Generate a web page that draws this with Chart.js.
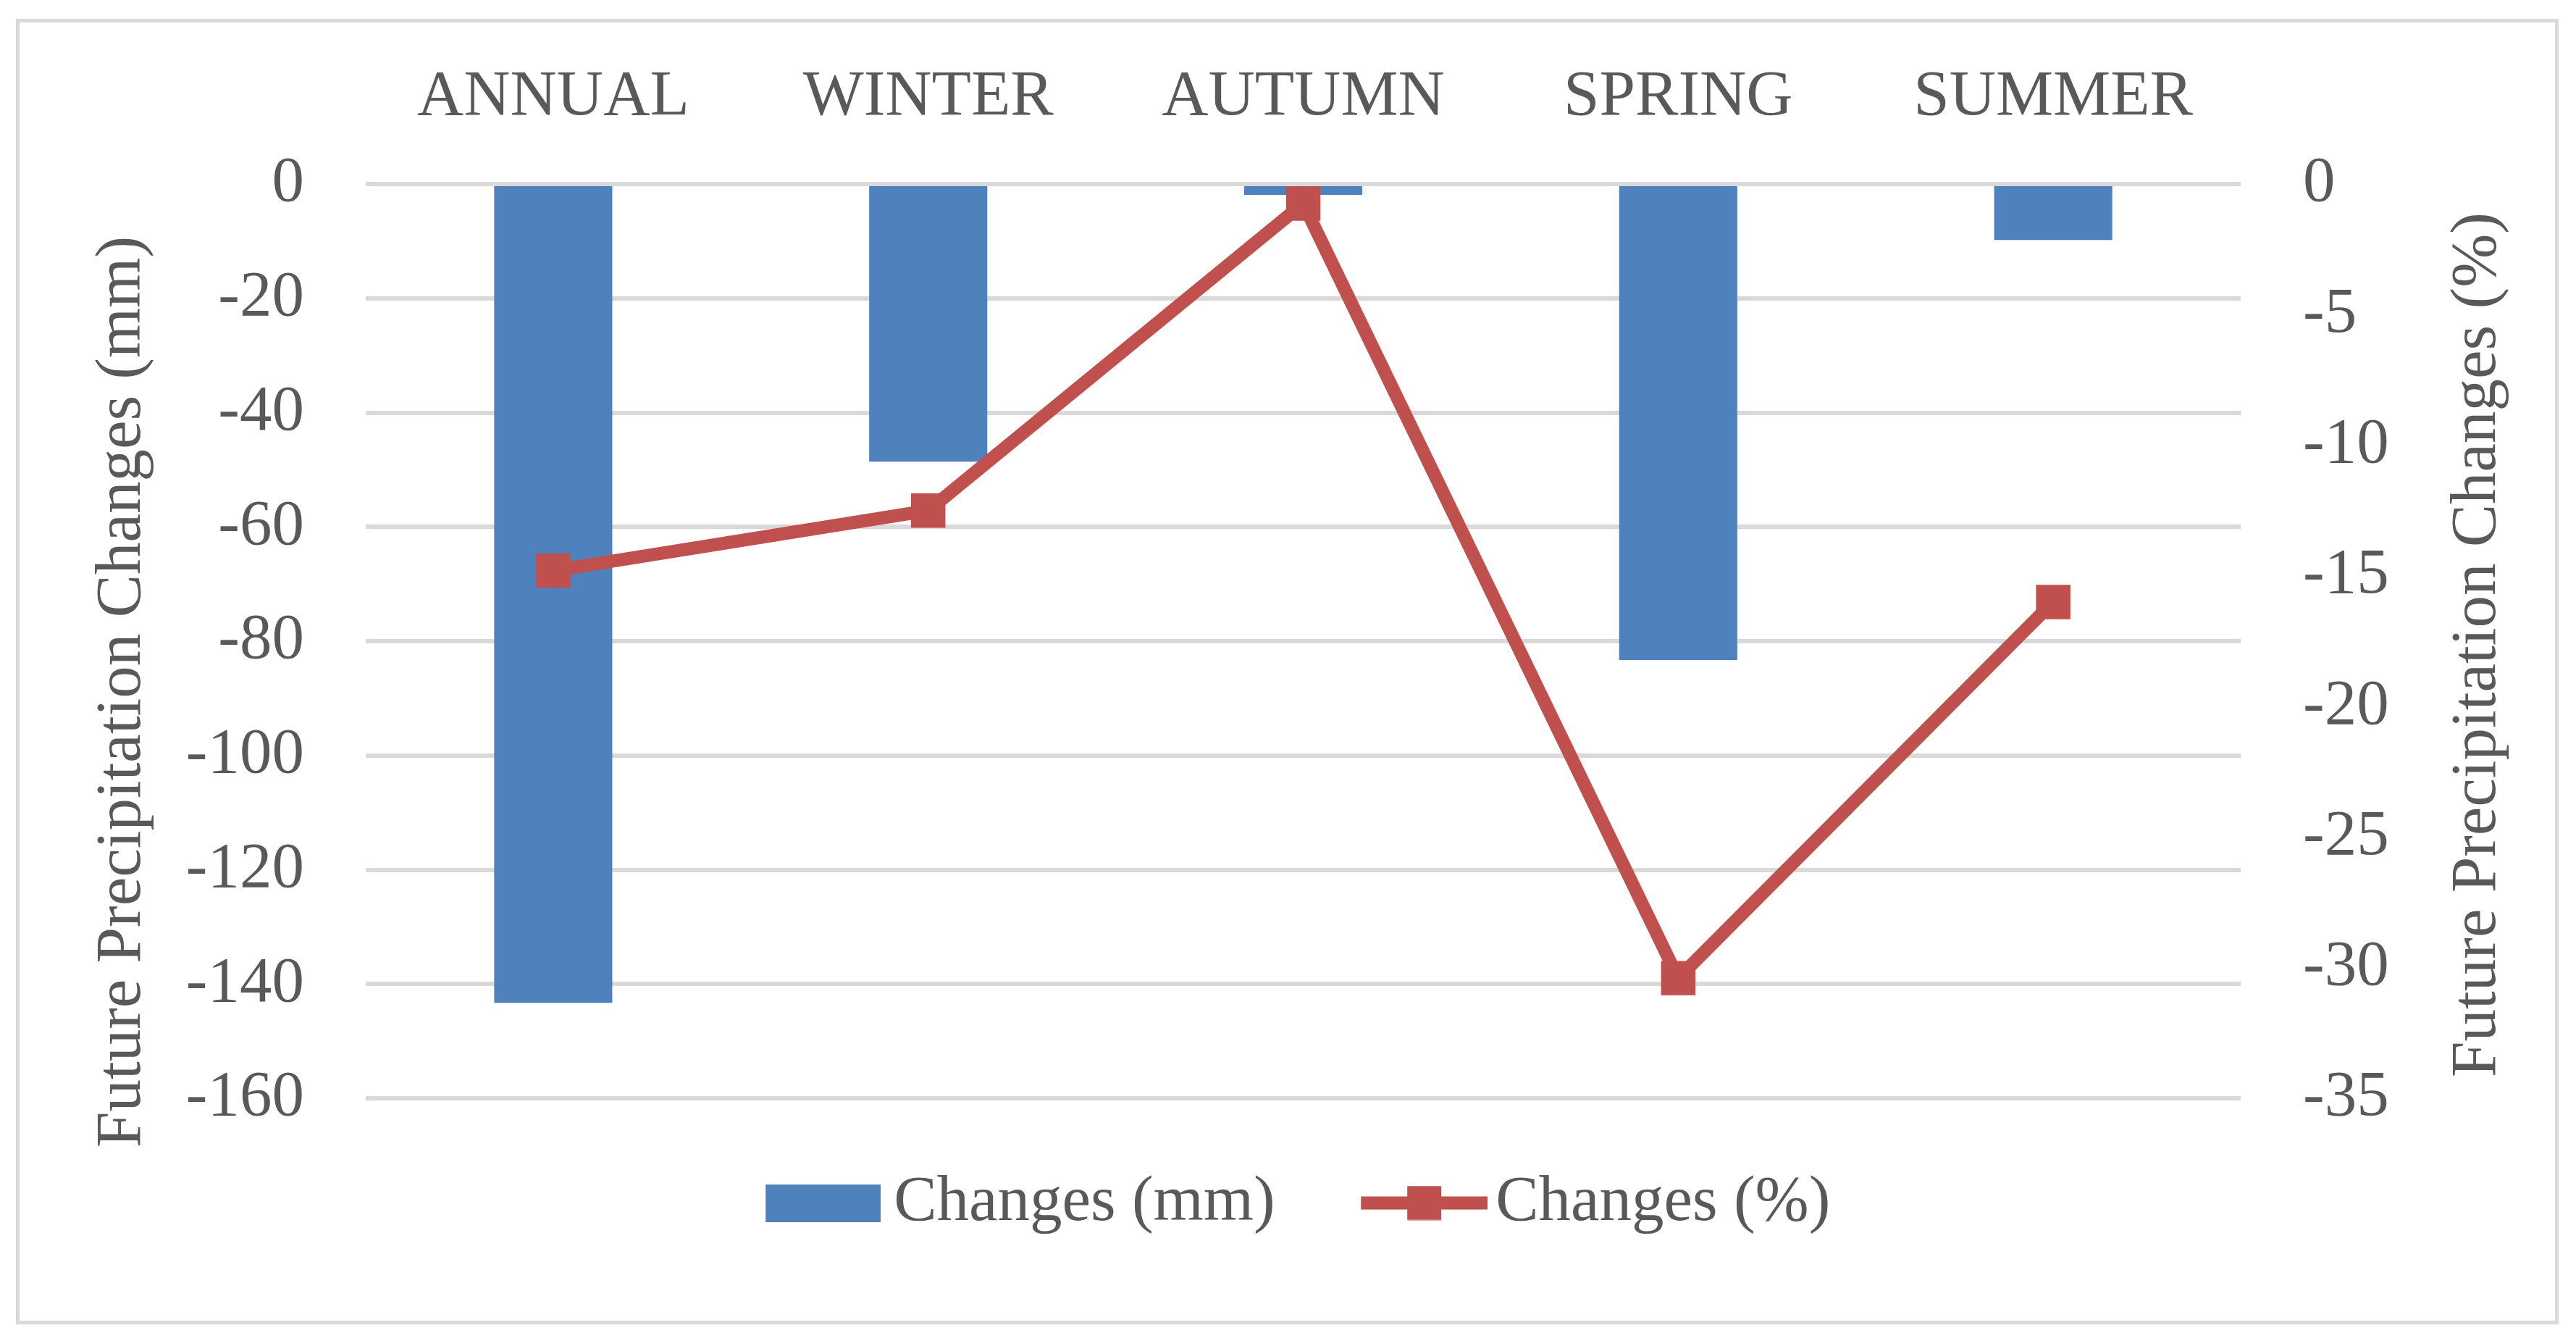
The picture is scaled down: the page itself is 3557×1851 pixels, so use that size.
<!DOCTYPE html>
<html lang="en">
<head>
    <meta charset="UTF-8">
    <title>Future Precipitation Changes</title>
    <script src="https://cdn.jsdelivr.net/npm/chart.js"></script>
    <style>
        body { margin: 0; background: #fff; overflow: hidden; }
        #frame {
            position: absolute; left: 22px; top: 26px; width: 3511px; height: 1802px;
            box-sizing: border-box; border: 5px solid #D9D9D9; pointer-events: none;
        }
        canvas { position: absolute; left: 0; top: 0; }
    </style>
</head>
<body>
    <canvas id="chart" width="3557" height="1851"></canvas>
    <div id="frame"></div>

    <script>
        // data
        const seasons = ['ANNUAL', 'WINTER', 'AUTUMN', 'SPRING', 'SUMMER'];
        const changesMm = [-143.3, -48.6, -1.9, -83.3, -9.8];
        const changesPct = [-14.8, -12.5, -0.75, -30.4, -16.0];
        const mmTicks = [0, -20, -40, -60, -80, -100, -120, -140, -160];
        const pctTicks = [0, -5, -10, -15, -20, -25, -30, -35];

        const blue = '#4F81BD';
        const red = '#C0504D';
        const textColor = '#595959';
        const fontSize = 89;

        Chart.defaults.font.family = '"Liberation Serif", serif';
        Chart.defaults.font.size = fontSize;
        Chart.defaults.color = textColor;

        // legend swatches (bar box, line with square marker)
        function barSwatch() {
            const c = document.createElement('canvas');
            c.width = 213; c.height = 52;
            const g = c.getContext('2d');
            g.fillStyle = blue;
            g.fillRect(54, 0, 159, 52);
            return c;
        }
        function lineSwatch() {
            const c = document.createElement('canvas');
            c.width = 227; c.height = 48;
            const g = c.getContext('2d');
            g.strokeStyle = red;
            g.lineWidth = 18;
            g.beginPath(); g.moveTo(52, 24); g.lineTo(227, 24); g.stroke();
            g.fillStyle = red;
            g.fillRect(139.5 - 23.5, 0.5, 47, 47);
            return c;
        }

        // rotated axis titles, placed like the original
        const axisTitles = {
            id: 'axisTitles',
            afterDraw(chart) {
                const ctx = chart.ctx;
                const items = [
                    ['Future Precipitation Changes (mm)', 170, 955],
                    ['Future Precipitation Changes (%)', 3422, 890]
                ];
                ctx.save();
                ctx.fillStyle = textColor;
                ctx.font = fontSize + 'px "Liberation Serif", serif';
                ctx.textAlign = 'center';
                ctx.textBaseline = 'middle';
                items.forEach(([txt, x, y]) => {
                    ctx.save();
                    ctx.translate(x, y);
                    ctx.rotate(-Math.PI / 2);
                    ctx.fillText(txt, 0, 0);
                    ctx.restore();
                });
                ctx.restore();
            }
        };

        new Chart(document.getElementById('chart'), {
            type: 'bar',
            data: {
                labels: seasons,
                datasets: [
                    {
                        type: 'line',
                        label: 'Changes (%)',
                        data: changesPct,
                        yAxisID: 'y1',
                        borderColor: red,
                        backgroundColor: red,
                        borderWidth: 18,
                        pointStyle: 'rect',
                        pointRadius: 30,
                        pointBorderWidth: 5,
                        pointBackgroundColor: red,
                        pointBorderColor: red,
                        tension: 0,
                        clip: 40,
                        order: 0
                    },
                    {
                        label: 'Changes (mm)',
                        data: changesMm,
                        yAxisID: 'y',
                        backgroundColor: blue,
                        categoryPercentage: 1,
                        barPercentage: 0.315,
                        order: 1
                    }
                ]
            },
            options: {
                responsive: false,
                animation: false,
                devicePixelRatio: 1,
                layout: { padding: { top: 0, left: 0, right: 0, bottom: 136 } },
                plugins: {
                    tooltip: { enabled: false },
                    legend: {
                        position: 'bottom',
                        labels: {
                            usePointStyle: true,
                            pointStyleWidth: 160,
                            padding: 100,
                            color: textColor,
                            font: { size: fontSize },
                            generateLabels: () => [
                                { text: 'Changes (mm)', pointStyle: barSwatch(), fontColor: textColor,
                                  fillStyle: blue, strokeStyle: blue, lineWidth: 0, hidden: false, datasetIndex: 1 },
                                { text: 'Changes (%)', pointStyle: lineSwatch(), fontColor: textColor,
                                  fillStyle: red, strokeStyle: red, lineWidth: 0, hidden: false, datasetIndex: 0 }
                            ]
                        }
                    }
                },
                scales: {
                    x: {
                        position: 'top',
                        grid: { display: false, drawTicks: false },
                        border: { display: false },
                        ticks: { padding: 66, color: textColor, font: { size: fontSize } },
                        afterFit: s => { s.height = 254; }
                    },
                    y: {
                        position: 'left',
                        min: mmTicks[mmTicks.length - 1],
                        max: mmTicks[0],
                        afterBuildTicks: s => { s.ticks = mmTicks.map(v => ({ value: v })); },
                        grid: { color: '#D9D9D9', lineWidth: 6, drawTicks: false },
                        border: { display: false },
                        ticks: { padding: 85, color: textColor, font: { size: fontSize } },
                        afterFit: s => { s.width = 505; }
                    },
                    y1: {
                        position: 'right',
                        min: pctTicks[pctTicks.length - 1],
                        max: pctTicks[0],
                        afterBuildTicks: s => { s.ticks = pctTicks.map(v => ({ value: v })); },
                        grid: { display: false, drawTicks: false },
                        border: { display: false },
                        ticks: { padding: 86, color: textColor, font: { size: fontSize } },
                        afterFit: s => { s.width = 463; }
                    }
                }
            },
            plugins: [axisTitles]
        });
    </script>
</body>
</html>
